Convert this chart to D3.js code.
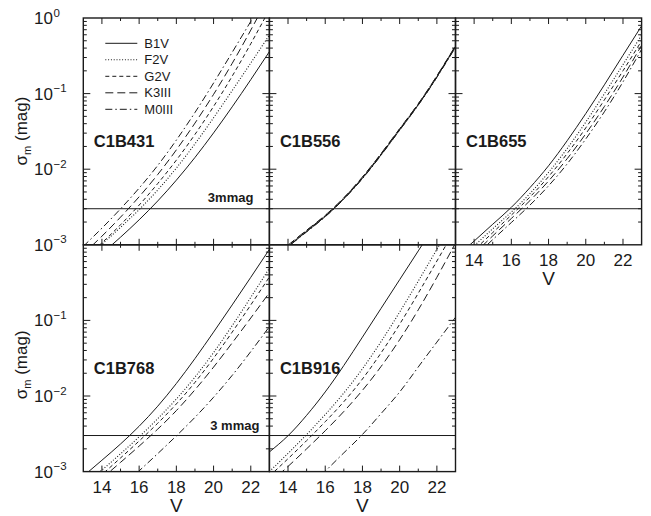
<!DOCTYPE html>
<html>
<head>
<meta charset="utf-8">
<script src="https://cdn.jsdelivr.net/npm/d3@7"></script>
<style>
html,body{margin:0;padding:0;background:#fff;}
svg{display:block;font-family:"Liberation Sans",Arial,Helvetica,sans-serif;}
</style>
</head>
<body>
<svg id="chart" width="651" height="516"></svg>
<script>
// ---------- data ----------
const magV = [13,14,15,16,17,18,19,20,21,22,23];
const seriesNames = ["B1V","F2V","G2V","K3III","M0III"];
const panelNames = ["C1B431","C1B556","C1B655","C1B768","C1B916"];
const xTickLabels = [14,16,18,20,22];
const yTickExps = [0,-1,-2,-3];
const limit3mmag = 0.003;

// C1B431
const c431_B1V  = [4.79e-4,7.67e-4,1.26e-3,2.14e-3,3.8e-3,7.16e-3,0.01429,0.0302,0.0668,0.153,0.359];
const c431_F2V  = [6.31e-4,1.02e-3,1.70e-3,2.92e-3,5.31e-3,0.01035,0.02163,0.0479,0.1096,0.254,0.596];
const c431_G2V  = [6.31e-4,1.06e-3,1.84e-3,3.35e-3,6.46e-3,0.01318,0.02884,0.0676,0.17,0.457,1.29];
const c431_K3III= [7.59e-4,1.30e-3,2.32e-3,4.32e-3,8.51e-3,0.018,0.0407,0.0977,0.251,0.692,2.0];
const c431_M0III= [9.55e-4,1.66e-3,2.99e-3,5.62e-3,0.01122,0.02427,0.05623,0.138,0.351,0.902,2.32];
// C1B556
const c556_B1V  = [6.0e-4,9.5e-4,1.5e-3,2.37e-3,4.06e-3,7.6e-3,0.0155,0.0331,0.071,0.166,0.417];
const c556_F2V  = [6.1e-4,9.6e-4,1.52e-3,2.4e-3,4.1e-3,7.7e-3,0.0157,0.0335,0.072,0.168,0.42];
const c556_G2V  = [6.2e-4,9.8e-4,1.54e-3,2.43e-3,4.15e-3,7.8e-3,0.0159,0.034,0.0728,0.17,0.425];
const c556_K3III= [6.3e-4,9.9e-4,1.56e-3,2.46e-3,4.2e-3,7.9e-3,0.0161,0.0344,0.0735,0.172,0.43];
const c556_M0III= [5.9e-4,9.4e-4,1.48e-3,2.35e-3,4.02e-3,7.5e-3,0.0153,0.0328,0.0705,0.164,0.41];
// C1B655
const c655_B1V  = [6.8e-4,1.12e-3,1.87e-3,3.13e-3,5.7e-3,0.0111,0.0238,0.0544,0.1306,0.321,0.787];
const c655_F2V  = [5.9e-4,9.7e-4,1.63e-3,2.71e-3,4.76e-3,9.08e-3,0.01875,0.042,0.0995,0.2415,0.593];
const c655_G2V  = [5.0e-4,8.5e-4,1.45e-3,2.47e-3,4.29e-3,7.98e-3,0.0161,0.0352,0.0826,0.2004,0.498];
const c655_K3III= [4.5e-4,7.6e-4,1.31e-3,2.23e-3,3.84e-3,6.98e-3,0.01377,0.0294,0.0675,0.1656,0.4355];
const c655_M0III= [4.1e-4,6.9e-4,1.17e-3,1.97e-3,3.35e-3,6.03e-3,0.01175,0.0251,0.0575,0.1429,0.385];
// C1B768
const c768_B1V  = [8.71e-4,1.413e-3,2.317e-3,3.98e-3,7.33e-3,0.01462,0.03126,0.06998,0.1603,0.3715,0.871];
const c768_F2V  = [6.46e-4,1.047e-3,1.718e-3,2.884e-3,5.01e-3,9.12e-3,0.01778,0.03758,0.0851,0.2018,0.49];
const c768_G2V  = [5.5e-4,9.12e-4,1.514e-3,2.54e-3,4.365e-3,7.85e-3,0.01514,0.03162,0.07,0.1603,0.376];
const c768_K3III= [5.01e-4,8.13e-4,1.324e-3,2.173e-3,3.648e-3,6.41e-3,0.01208,0.0241,0.0504,0.1076,0.233];
const c768_M0III= [2.19e-4,3.63e-4,6.1e-4,1.023e-3,1.73e-3,2.97e-3,5.22e-3,9.62e-3,0.01875,0.0387,0.0828];
// C1B916
const c916_B1V  = [1.82e-3,2.98e-3,5.55e-3,0.01132,0.02535,0.0601,0.1442,0.346,0.83,2.0,4.8];
const c916_F2V  = [1.0e-3,1.74e-3,3.09e-3,5.69e-3,0.01096,0.02291,0.05248,0.1288,0.3311,0.871,2.29];
const c916_G2V  = [8.71e-4,1.48e-3,2.57e-3,4.57e-3,8.41e-3,0.01679,0.03715,0.0891,0.229,0.61,1.64];
const c916_K3III= [7.08e-4,1.17e-3,2.0e-3,3.47e-3,6.24e-3,0.01189,0.02455,0.0556,0.138,0.372,1.05];
const c916_M0III= [1.9e-4,3.3e-4,5.8e-4,1.01e-3,1.77e-3,3.1e-3,5.85e-3,0.0113,0.0242,0.0516,0.11];

const panelSeries = [
  [c431_B1V,c431_F2V,c431_G2V,c431_K3III,c431_M0III],
  [c556_B1V,c556_F2V,c556_G2V,c556_K3III,c556_M0III],
  [c655_B1V,c655_F2V,c655_G2V,c655_K3III,c655_M0III],
  [c768_B1V,c768_F2V,c768_G2V,c768_K3III,c768_M0III],
  [c916_B1V,c916_F2V,c916_G2V,c916_K3III,c916_M0III]
];

// ---------- layout / styles ----------
const L = 83.3, T = 18, PW = 186.1, PH = 226.8;
const grid = [[0,0],[1,0],[2,0],[0,1],[1,1]];
const dashes = [null, "1,1.8", "4,3", "8,4", "7,3,1.5,3"];
const ink = "#1a1a1a";

const svg = d3.select("#chart");
const defs = svg.append("defs");

panelNames.forEach((name, p) => {
  const [col,row] = grid[p];
  const x0 = L + col*PW, y0 = T + row*PH;
  const x = d3.scaleLinear().domain([13,23]).range([x0, x0+PW]);
  const y = d3.scaleLog().domain([1e-3,1]).range([y0+PH, y0]);
  const g = svg.append("g");

  defs.append("clipPath").attr("id","clip"+p)
    .append("rect").attr("x",x0).attr("y",y0).attr("width",PW).attr("height",PH);

  const line = d3.line()
    .x((d,i)=>x(magV[i]))
    .y(d=>y(d))
    .curve(d3.curveNatural);

  const cg = g.append("g").attr("clip-path","url(#clip"+p+")");
  panelSeries[p].forEach((vals,s) => {
    cg.append("path")
      .attr("d", line(vals))
      .attr("fill","none")
      .attr("stroke",ink)
      .attr("stroke-width", s===1 ? 1.1 : 1)
      .attr("stroke-dasharray", dashes[s]);
  });

  // 3 mmag line
  g.append("line")
    .attr("x1",x(13)).attr("x2",x(23))
    .attr("y1",y(limit3mmag)).attr("y2",y(limit3mmag))
    .attr("stroke",ink).attr("stroke-width",1);

  // ticks
  const tg = g.append("g").attr("stroke",ink).attr("stroke-width",1);
  d3.range(14,23).forEach(v => {
    const len = v%2===0 ? 6 : 3;
    tg.append("line").attr("x1",x(v)).attr("x2",x(v)).attr("y1",y0+PH).attr("y2",y0+PH-len);
    tg.append("line").attr("x1",x(v)).attr("x2",x(v)).attr("y1",y0).attr("y2",y0+len);
  });
  y.ticks().forEach(t => {
    const m = Math.round(t/Math.pow(10,Math.floor(Math.log10(t)+1e-9)));
    if (t<=1e-3*1.0001 || t>=0.9999) return;
    const len = m===1 ? 7 : 3.5;
    tg.append("line").attr("x1",x0).attr("x2",x0+len).attr("y1",y(t)).attr("y2",y(t));
    tg.append("line").attr("x1",x0+PW).attr("x2",x0+PW-len).attr("y1",y(t)).attr("y2",y(t));
  });

  // frame
  g.append("rect").attr("x",x0).attr("y",y0).attr("width",PW).attr("height",PH)
    .attr("fill","none").attr("stroke",ink).attr("stroke-width",1.4);

  // panel label
  g.append("text").attr("x",x0+10.5).attr("y",y0+129)
    .attr("font-size",16.5).attr("font-weight","bold").attr("fill",ink).text(name);

  // x tick labels
  const bottomPanel = (row===1) || (col===2);
  if (bottomPanel) {
    xTickLabels.forEach(v => {
      g.append("text").attr("x",x(v)).attr("y",y0+PH+21)
        .attr("text-anchor","middle").attr("font-size",17).attr("fill",ink).text(v);
    });
    g.append("text").attr("x",x0+PW/2).attr("y",y0+PH+40.5)
      .attr("text-anchor","middle").attr("font-size",19).attr("fill",ink).text("V");
  }
  // y tick labels
  if (col===0) {
    yTickExps.forEach(e => {
      if (row===1 && e===0) return;
      const ty = y(Math.pow(10,e));
      g.append("text").attr("x",53).attr("y",ty+6)
        .attr("text-anchor","end").attr("font-size",17).attr("fill",ink).text("10");
      g.append("text").attr("x",53.5).attr("y",ty-1.5)
        .attr("font-size",11.5).attr("fill",ink).text(e===0 ? "0" : "\u2212"+(-e));
    });
    const ly = y0 + (row===0 ? 113 : 120);
    const yl = g.append("text").attr("transform",`translate(27,${ly}) rotate(-90)`)
      .attr("text-anchor","middle").attr("font-size",17).attr("fill",ink);
    yl.append("tspan").text("\u03C3");
    yl.append("tspan").attr("font-size",11).attr("dy",4).text("m");
    yl.append("tspan").attr("dy",-4).text(" (mag)");
  }
});

// 3 mmag labels
{
  const y = d3.scaleLog().domain([1e-3,1]).range([T+PH, T]);
  svg.append("text").attr("x",L+PW-16).attr("y",y(limit3mmag)-7)
    .attr("text-anchor","end").attr("font-size",13).attr("font-weight","bold").attr("fill",ink).text("3mmag");
  const y2 = d3.scaleLog().domain([1e-3,1]).range([T+2*PH, T+PH]);
  svg.append("text").attr("x",L+PW-10).attr("y",y2(limit3mmag)-6)
    .attr("text-anchor","end").attr("font-size",13).attr("font-weight","bold").attr("fill",ink).text("3 mmag");
}

// legend (in the first panel)
{
  const lg = svg.append("g");
  seriesNames.forEach((n,i) => {
    const ly = T + 25.3 + i*16.5;
    lg.append("line").attr("x1",L+22).attr("x2",L+54).attr("y1",ly).attr("y2",ly)
      .attr("stroke",ink).attr("stroke-width", i===1 ? 1.1 : 1)
      .attr("stroke-dasharray", dashes[i]);
    lg.append("text").attr("x",L+61).attr("y",ly+4.5)
      .attr("font-size",13).attr("fill",ink).text(n);
  });
}
</script>
</body>
</html>
